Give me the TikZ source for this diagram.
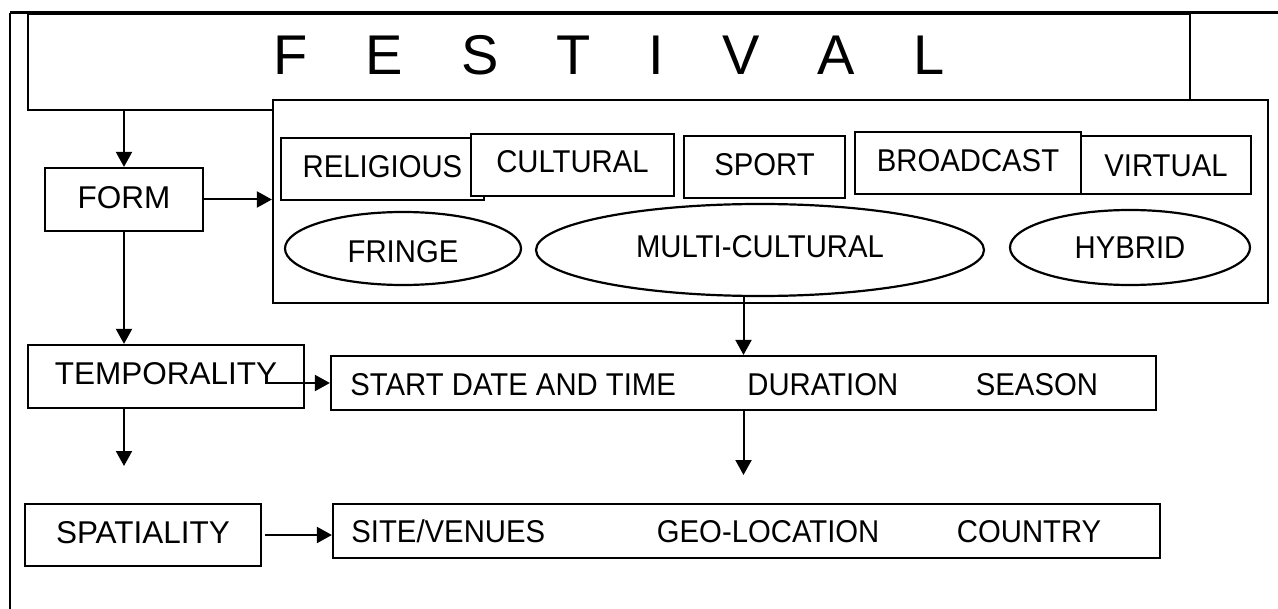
\documentclass[tikz,border=0pt]{standalone}
\usepackage{fontspec}
\setmainfont{Liberation Sans}
\newfontfamily\narfont[FakeStretch=0.93]{Liberation Sans}
\usetikzlibrary{arrows.meta,shapes.geometric}
\begin{document}
\begin{tikzpicture}[x=0.5pt,y=-0.5pt,
  lbl/.style={font=\fontsize{15.75pt}{17pt}\selectfont, text height=11.3pt, text depth=0pt},
  nlbl/.style={font=\narfont\fontsize{15.75pt}{17pt}\selectfont, text height=11.3pt, text depth=0pt},
  box/.style={draw, line width=1.1pt, fill=white, inner sep=0pt, nlbl},
  lbox/.style={box, lbl},
  oval/.style={box, ellipse},
  liftby/.style={text depth=#1},
  txt/.style={inner sep=0pt, nlbl, anchor=west},
  arr/.style={line width=1pt, -{Triangle[length=7.5pt,width=8pt]}},
  frame/.style={line width=#1}
]
\useasboundingbox (0,0) rectangle (1278,609);

% outer frame
\draw[frame=1.5pt] (1278,13) -- (10,13);
\draw[frame=1.1pt] (10,13) -- (10,609);

% title box
\node[box, minimum width=581pt, minimum height=48pt,
      font=\fontsize{28pt}{30pt}\selectfont, text height=20pt, text depth=7pt] (festival) at (609,62)
  {F\hspace{29pt}E\hspace{29pt}S\hspace{29pt}T\hspace{29pt}I\hspace{29pt}V\hspace{29pt}A\hspace{29pt}L};

% form container
\node[box, minimum width=497.5pt, minimum height=101.5pt] (inner) at (770.5,201.5) {};

\node[box, minimum width=101.5pt, minimum height=31pt, liftby=3pt] (religious) at (382.5,169) {RELIGIOUS};
\node[box, minimum width=101.5pt, minimum height=31pt, liftby=3.5pt] (cultural) at (572.5,165) {CULTURAL};
\node[box, minimum width=80.5pt, minimum height=31pt, liftby=3pt] (sport) at (764.5,167) {SPORT};
\node[box, minimum width=113pt, minimum height=31pt, liftby=3pt] (broadcast) at (968,163) {BROADCAST};
\node[box, minimum width=85pt, minimum height=29pt] (virtual) at (1166,165) {VIRTUAL};

\node[oval, minimum width=118pt, minimum height=36.5pt, text height=13.8pt] (fringe) at (403,248.5) {FRINGE};
\node[oval, minimum width=224pt, minimum height=46pt, liftby=4pt] (multi) at (760,250) {MULTI-CULTURAL};
\node[oval, minimum width=120pt, minimum height=37.5pt] (hybrid) at (1130,247.5) {HYBRID};

% left column
\node[lbox, minimum width=79pt, minimum height=31.5pt, liftby=2.5pt] (form) at (124,199.5) {FORM};
\node[lbox, minimum width=138pt, minimum height=31.5pt, liftby=3.5pt] (temp) at (166,376.5) {TEMPORALITY};
\node[lbox, minimum width=118pt, minimum height=31pt, liftby=3pt] (spatial) at (143,535) {SPATIALITY};

% attribute rows
\node[box, minimum width=412.5pt, minimum height=27pt] (start) at (743.5,383) {};
\node[txt] (sdt) at (350,384.5) {START DATE AND TIME};
\node[txt] (dur) at (747,384.5) {DURATION};
\node[txt] (sea) at (975.5,384.5) {SEASON};

\node[box, minimum width=413.5pt, minimum height=27pt] (site) at (746.5,531) {};
\node[txt] (ven) at (351,531.5) {SITE/VENUES};
\node[txt] (geo) at (656.5,531.5) {GEO-LOCATION};
\node[txt] (cty) at (956.5,531.5) {COUNTRY};

% free ends
\coordinate (tempout) at (268,383);
\coordinate (tempend) at (124,466);
\coordinate (startend) at (743.5,475);
\coordinate (spatout) at (265,535);

% connectors
\draw[arr] (form.north |- festival.south) -- (form.north);
\draw[arr] (form.east) -- (form.east -| inner.west);
\draw[arr] (form.south) -- (form.south |- temp.north);
\draw[arr] (multi.south -| start.north) -- (start.north);
\draw[arr] (tempout) -- (start.west);
\draw[arr] (tempend |- temp.south) -- (tempend);
\draw[arr] (start.south) -- (startend);
\draw[arr] (spatout) -- (spatout -| site.west);
\end{tikzpicture}
\end{document}
